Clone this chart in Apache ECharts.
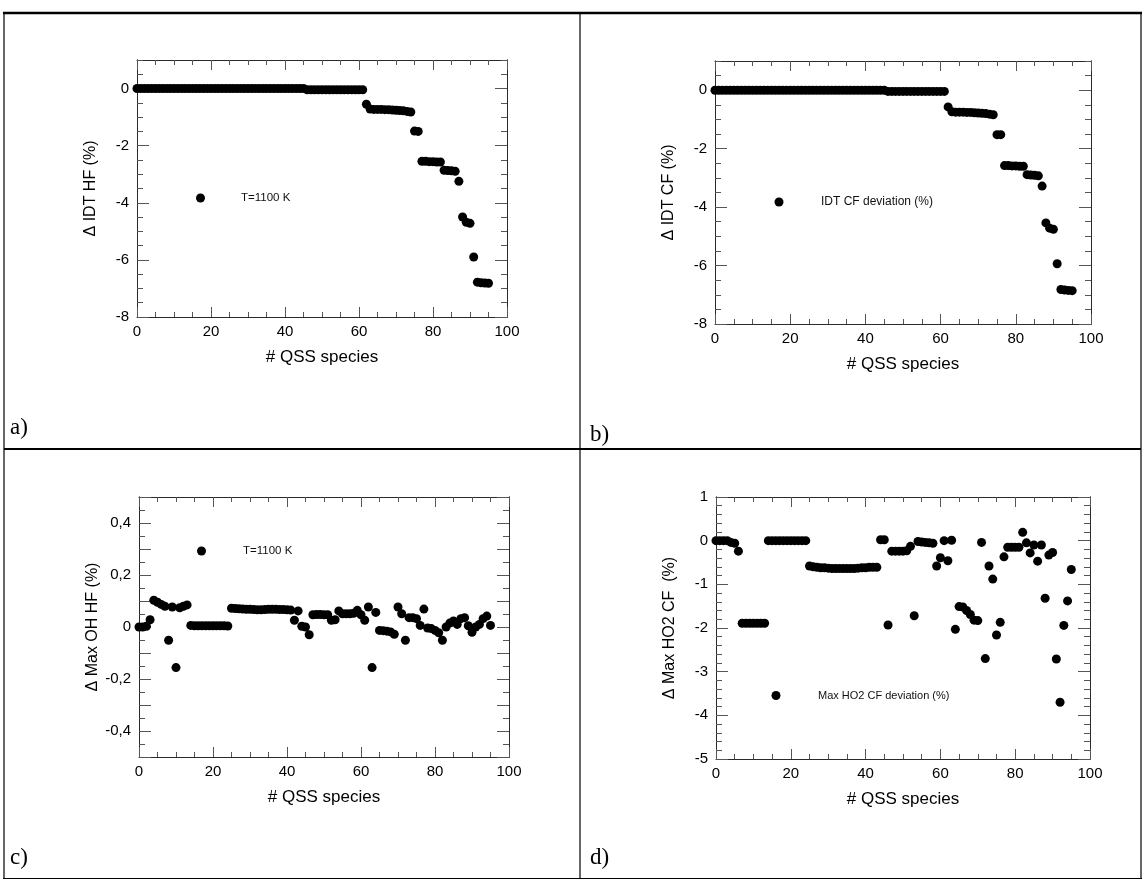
<!DOCTYPE html>
<html>
<head>
<meta charset="utf-8">
<script src="https://cdn.jsdelivr.net/npm/echarts@6/dist/echarts.min.js"></script>
<style>
  html, body { margin: 0; padding: 0; background: #fff; }
  #chart { width: 1144px; height: 880px; }
</style>
</head>
<body>
<div id="chart"></div>
<script>
// QSS species index (x for every panel)
const qssSpecies = [
  0, 1, 2, 3, 4, 5, 6, 7, 8, 9, 10, 11, 12, 13, 14, 15, 16, 17, 18, 19,
  20, 21, 22, 23, 24, 25, 26, 27, 28, 29, 30, 31, 32, 33, 34, 35, 36, 37, 38, 39,
  40, 41, 42, 43, 44, 45, 46, 47, 48, 49, 50, 51, 52, 53, 54, 55, 56, 57, 58, 59,
  60, 61, 62, 63, 64, 65, 66, 67, 68, 69, 70, 71, 72, 73, 74, 75, 76, 77, 78, 79,
  80, 81, 82, 83, 84, 85, 86, 87, 88, 89, 90, 91, 92, 93, 94, 95
];

// a) IDT deviation, HF (%)
const idtHF = [
  0, 0, 0, 0, 0, 0, 0, 0, 0, 0, 0, 0, 0, 0, 0, 0, 0, 0, 0, 0,
  0, 0, 0, 0, 0, 0, 0, 0, 0, 0, 0, 0, 0, 0, 0, 0, 0, 0, 0, 0,
  0, 0, 0, 0, 0, 0, -0.04, -0.04, -0.04, -0.04, -0.04, -0.04, -0.04, -0.04, -0.04, -0.04,
  -0.04, -0.04, -0.04, -0.04, -0.04, -0.04, -0.55, -0.72, -0.73, -0.73, -0.73, -0.74, -0.74, -0.75,
  -0.76, -0.77, -0.78, -0.80, -0.82, -1.49, -1.50, -2.55, -2.55, -2.56, -2.56, -2.57, -2.57, -2.86,
  -2.87, -2.88, -2.90, -3.25, -4.50, -4.68, -4.72, -5.90, -6.78, -6.80, -6.81, -6.82
];

// b) IDT deviation, CF (%)
const idtCF = [
  0, 0, 0, 0, 0, 0, 0, 0, 0, 0, 0, 0, 0, 0, 0, 0, 0, 0, 0, 0,
  0, 0, 0, 0, 0, 0, 0, 0, 0, 0, 0, 0, 0, 0, 0, 0, 0, 0, 0, 0,
  0, 0, 0, 0, 0, 0, -0.04, -0.04, -0.04, -0.04, -0.04, -0.04, -0.04, -0.04, -0.04, -0.04,
  -0.04, -0.04, -0.04, -0.04, -0.04, -0.04, -0.57, -0.74, -0.75, -0.75, -0.75, -0.76, -0.76, -0.77,
  -0.78, -0.79, -0.80, -0.82, -0.84, -1.52, -1.52, -2.58, -2.58, -2.59, -2.59, -2.60, -2.60, -2.89,
  -2.90, -2.91, -2.93, -3.28, -4.54, -4.72, -4.76, -5.94, -6.82, -6.84, -6.85, -6.86
];

// c) Max OH deviation, HF (%)
const maxOH_HF = [
  0, 0, 0.003, 0.028, 0.103, 0.095, 0.087, 0.080, -0.051, 0.077,
  -0.156, 0.074, 0.080, 0.085, 0.006, 0.005, 0.005, 0.005, 0.005, 0.005,
  0.005, 0.005, 0.005, 0.005, 0.004, 0.072, 0.071, 0.070, 0.069, 0.068,
  0.068, 0.067, 0.066, 0.066, 0.067, 0.068, 0.068, 0.068, 0.067, 0.067,
  0.066, 0.065, 0.026, 0.062, 0.003, 0.000, -0.030, 0.047, 0.048, 0.048,
  0.047, 0.047, 0.026, 0.028, 0.062, 0.051, 0.051, 0.051, 0.053, 0.064,
  0.047, 0.026, 0.077, -0.156, 0.056, -0.013, -0.014, -0.016, -0.019, -0.028,
  0.077, 0.051, -0.051, 0.036, 0.036, 0.032, 0.006, 0.069, -0.004, -0.006,
  -0.013, -0.022, -0.051, 0.000, 0.015, 0.023, 0.010, 0.032, 0.036, 0.005,
  -0.020, 0.000, 0.010, 0.032, 0.042, 0.006
];

// d) Max HO2 deviation, CF (%)
const maxHO2_CF = [
  0, 0, 0, 0, -0.04, -0.06, -0.24, -1.89, -1.89, -1.89,
  -1.89, -1.89, -1.89, -1.89, 0, 0, 0, 0, 0, 0,
  0, 0, 0, 0, 0, -0.58, -0.60, -0.61, -0.62, -0.62,
  -0.63, -0.64, -0.64, -0.64, -0.64, -0.64, -0.64, -0.64, -0.63, -0.62,
  -0.62, -0.61, -0.61, -0.61, 0.02, 0.02, -1.93, -0.24, -0.24, -0.24,
  -0.24, -0.23, -0.13, -1.72, -0.02, -0.03, -0.04, -0.05, -0.06, -0.58,
  -0.39, 0.00, -0.46, 0.01, -2.03, -1.51, -1.52, -1.60, -1.69, -1.82,
  -1.83, -0.04, -2.70, -0.58, -0.88, -2.16, -1.87, -0.37, -0.15, -0.15,
  -0.15, -0.15, 0.19, -0.05, -0.28, -0.10, -0.47, -0.10, -1.32, -0.33,
  -0.27, -2.71, -3.70, -1.94, -1.38, -0.66
];

// tick labels
const qssTicks = [0, 20, 40, 60, 80, 100];
const idtTicks = [-8, -6, -4, -2, 0];
const ohTicks = [-0.4, -0.2, 0, 0.2, 0.4];
const ho2Ticks = [-5, -4, -3, -2, -1, 0, 1];

function steps(min, max, step) {
  const out = [];
  const n = Math.round((max - min) / step);
  for (let k = 0; k <= n; k++) out.push(+(min + k * step).toFixed(6));
  return out;
}

const commaFmt = v => String(+v.toFixed(4)).replace('.', ',');

const panels = [
  {
    values: idtHF, seriesName: 'T=1100 K', yName: '\u0394 IDT HF (%)',
    yMin: -8, yMax: 1, labels: idtTicks, major: steps(-8, 0, 2), minor: steps(-8, 1, 0.5),
    grid: { left: 137, top: 60, width: 370, height: 257 },
    legend: { left: 196, top: 192, fontSize: 11.5, pad: 31 }
  },
  {
    values: idtCF, seriesName: 'IDT CF deviation (%)', yName: '\u0394 IDT CF (%)',
    yMin: -8, yMax: 1, labels: idtTicks, major: steps(-8, 0, 2), minor: steps(-8, 1, 0.5),
    grid: { left: 715, top: 61, width: 376, height: 263 },
    legend: { left: 774.5, top: 196, fontSize: 12, pad: 32.5 }
  },
  {
    values: maxOH_HF, seriesName: 'T=1100 K', yName: '\u0394 Max OH HF (%)',
    yMin: -0.5, yMax: 0.5, labels: ohTicks, major: steps(-0.5, 0.5, 0.1), minor: steps(-0.5, 0.5, 0.05),
    grid: { left: 139, top: 497, width: 370, height: 260 },
    legend: { left: 197, top: 545, fontSize: 11.5, pad: 32 }
  },
  {
    values: maxHO2_CF, seriesName: 'Max HO2 CF deviation (%)', yName: '\u0394 Max HO2 CF  (%)',
    yMin: -5, yMax: 1, labels: ho2Ticks, major: steps(-5, 1, 1), minor: steps(-5, 1, 0.2),
    grid: { left: 716, top: 497, width: 374, height: 262 },
    legend: { left: 771.5, top: 690, fontSize: 11, pad: 32.5 }
  }
];

const FONT = 'Liberation Sans, Arial, sans-serif';
const AXIS_COLOR = '#2a2a2a';
const TICK_COLOR = '#555';

const option = {
  backgroundColor: '#fff',
  animation: false,
  grid: [], xAxis: [], yAxis: [], series: [], legend: [],
  graphic: []
};

panels.forEach((p, g) => {
  option.grid.push(Object.assign({ containLabel: false }, p.grid));

  const xBase = {
    type: 'value', gridIndex: g, min: 0, max: 100, interval: 20,
    axisLine: { show: true, onZero: false, lineStyle: { color: AXIS_COLOR, width: 1 } },
    axisTick: { show: true, inside: true, length: 10, lineStyle: { color: TICK_COLOR } },
    minorTick: { show: true, splitNumber: 4, length: 5, lineStyle: { color: TICK_COLOR } },
    splitLine: { show: false }, minorSplitLine: { show: false }
  };
  const xi = option.xAxis.length;
  option.xAxis.push(Object.assign({}, xBase, {
    position: 'bottom',
    axisLabel: { show: true, customValues: qssTicks, fontSize: 15, color: '#000', fontFamily: FONT, margin: 7 },
    name: '# QSS species', nameLocation: 'middle', nameGap: 32,
    nameTextStyle: { fontSize: 17, color: '#000', fontFamily: FONT }
  }));
  option.xAxis.push(Object.assign({}, xBase, { position: 'top', axisLabel: { show: false } }));

  const yBase = {
    type: 'value', gridIndex: g, min: p.yMin, max: p.yMax,
    axisLine: { show: true, onZero: false, lineStyle: { color: AXIS_COLOR, width: 1 } },
    splitLine: { show: false }
  };
  const yi = option.yAxis.length;
  ['left', 'right'].forEach(side => {
    option.yAxis.push(Object.assign({}, yBase, {
      position: side,
      axisTick: { show: true, inside: true, length: 12, customValues: p.major, lineStyle: { color: TICK_COLOR } },
      axisLabel: side === 'left'
        ? { show: true, customValues: p.labels, formatter: commaFmt, fontSize: 15, color: '#000', fontFamily: FONT, margin: 8 }
        : { show: false },
      name: side === 'left' ? p.yName : '',
      nameLocation: 'middle', nameGap: 38, nameRotate: 90,
      nameTextStyle: { fontSize: 16, color: '#000', fontFamily: FONT }
    }));
    option.yAxis.push(Object.assign({}, yBase, {
      position: side,
      axisTick: { show: true, inside: true, length: 6, customValues: p.minor, lineStyle: { color: TICK_COLOR } },
      axisLabel: { show: false }
    }));
  });

  option.series.push({
    type: 'scatter', name: p.seriesName,
    xAxisIndex: xi, yAxisIndex: yi,
    symbol: 'circle', symbolSize: 9,
    itemStyle: { color: '#000', opacity: 1 },
    emphasis: { disabled: true },
    data: qssSpecies.map((x, i) => [x, p.values[i]])
  });

  option.legend.push({
    left: p.legend.left, top: p.legend.top, padding: 0,
    data: [p.seriesName], icon: 'circle', itemWidth: 9, itemHeight: 9,
    selectedMode: false,
    itemStyle: { color: '#000', opacity: 1 },
    textStyle: { fontSize: p.legend.fontSize, color: '#111', fontFamily: FONT, padding: [0, 0, 0, p.legend.pad] }
  });
});

// table frame around the four panels
const line = (x1, y1, x2, y2, w) => ({
  type: 'line', silent: true,
  shape: { x1, y1, x2, y2 },
  style: { stroke: '#000', lineWidth: w }
});
option.graphic.push(
  line(3, 13, 1142, 13, 2.5),
  line(4, 13, 4, 879, 1.2),
  line(1141, 13, 1141, 879, 1.2),
  line(3, 878.5, 1142, 878.5, 1.2),
  line(580, 13, 580, 879, 1.2),
  line(4, 449, 1141, 449, 2)
);

// panel tags
const tag = (text, left, top) => ({
  type: 'text', left, top, silent: true,
  style: { text, fontSize: 23, fontFamily: 'Liberation Serif, Times New Roman, serif', fill: '#000' }
});
option.graphic.push(
  tag('a)', 10, 416),
  tag('b)', 590, 423),
  tag('c)', 10, 846),
  tag('d)', 590, 846)
);

const chart = echarts.init(document.getElementById('chart'), null, { renderer: 'canvas' });
chart.setOption(option);
</script>
</body>
</html>
